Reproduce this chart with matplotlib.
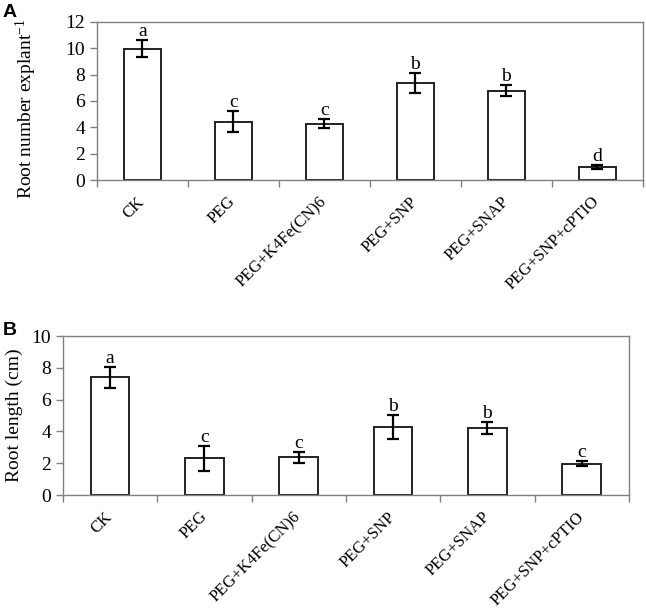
import matplotlib
matplotlib.use('Agg')
import matplotlib.pyplot as plt
import numpy as np

plt.rcParams['font.family'] = ['Liberation Serif', 'DejaVu Serif']
plt.rcParams['mathtext.fontset'] = 'custom'
plt.rcParams['mathtext.rm'] = 'Liberation Serif'
plt.rcParams['mathtext.it'] = 'Liberation Serif:italic'

treatments = ['CK', 'PEG', 'PEG+K4Fe(CN)6', 'PEG+SNP', 'PEG+SNAP', 'PEG+SNP+cPTIO']

# panel A: root number per explant
root_number = [9.97, 4.42, 4.27, 7.37, 6.78, 0.98]
root_number_err = [0.63, 0.80, 0.35, 0.77, 0.40, 0.16]
letters_a = ['a', 'c', 'c', 'b', 'b', 'd']

# panel B: root length
root_length = [7.42, 2.30, 2.38, 4.30, 4.22, 1.97]
root_length_err = [0.67, 0.80, 0.35, 0.75, 0.40, 0.16]
letters_b = ['a', 'c', 'c', 'b', 'b', 'c']

grey = '#808080'

def panel(ax, vals, errs, letters, ymax, ylabel, label_x, label_y):
    x = np.arange(len(treatments))
    ax.bar(x, vals, width=0.41, color='white', edgecolor='#222222', linewidth=1.4, zorder=2)
    ax.errorbar(x, vals, yerr=errs, fmt='none', ecolor='black', elinewidth=1.6,
                capsize=4, capthick=1.6, zorder=3)
    for xi, v, e, l in zip(x, vals, errs, letters):
        ax.annotate(l, (xi, v + e), xytext=(0, 0), textcoords='offset points',
                    ha='center', va='bottom', fontsize=14)
    ax.set_xlim(-0.5, len(treatments) - 0.5)
    ax.set_ylim(0, ymax)
    ax.set_yticks(np.arange(0, ymax + 1, 2))
    ax.tick_params(axis='y', labelsize=14, direction='out', length=5, width=1, color=grey)
    ax.set_xticks(x)
    ax.set_xticklabels(treatments, rotation=45, ha='right', va='center',
                       rotation_mode='anchor', fontsize=12)
    ax.tick_params(axis='x', which='major', length=0, pad=14)
    ax.set_xticks(np.arange(-0.5, len(treatments)), minor=True)
    ax.tick_params(axis='x', which='minor', direction='out', length=5, width=1, color=grey)
    for s in ax.spines.values():
        s.set_color(grey)
        s.set_linewidth(1.0)
    ax.set_ylabel(ylabel, fontsize=14)
    ax.yaxis.set_label_coords(label_x, label_y)

fig = plt.figure(figsize=(6.46, 6.11), dpi=100)
ax1 = fig.add_axes([0.150, 0.7054, 0.845, 0.259])
ax2 = fig.add_axes([0.0975, 0.1898, 0.876, 0.260])

panel(ax1, root_number, root_number_err, letters_a, 12, 'Root number explant$^{\\mathrm{-1}}$', -0.106, 0.45)
panel(ax2, root_length, root_length_err, letters_b, 10, 'Root length (cm)', -0.071, 0.5)

fig.text(0.004, 0.994, 'A', fontsize=14, fontweight='bold', family='Liberation Sans', va='top')
fig.text(0.004, 0.473, 'B', fontsize=14, fontweight='bold', family='Liberation Sans', va='top')

fig.savefig('out.png', dpi=100)
